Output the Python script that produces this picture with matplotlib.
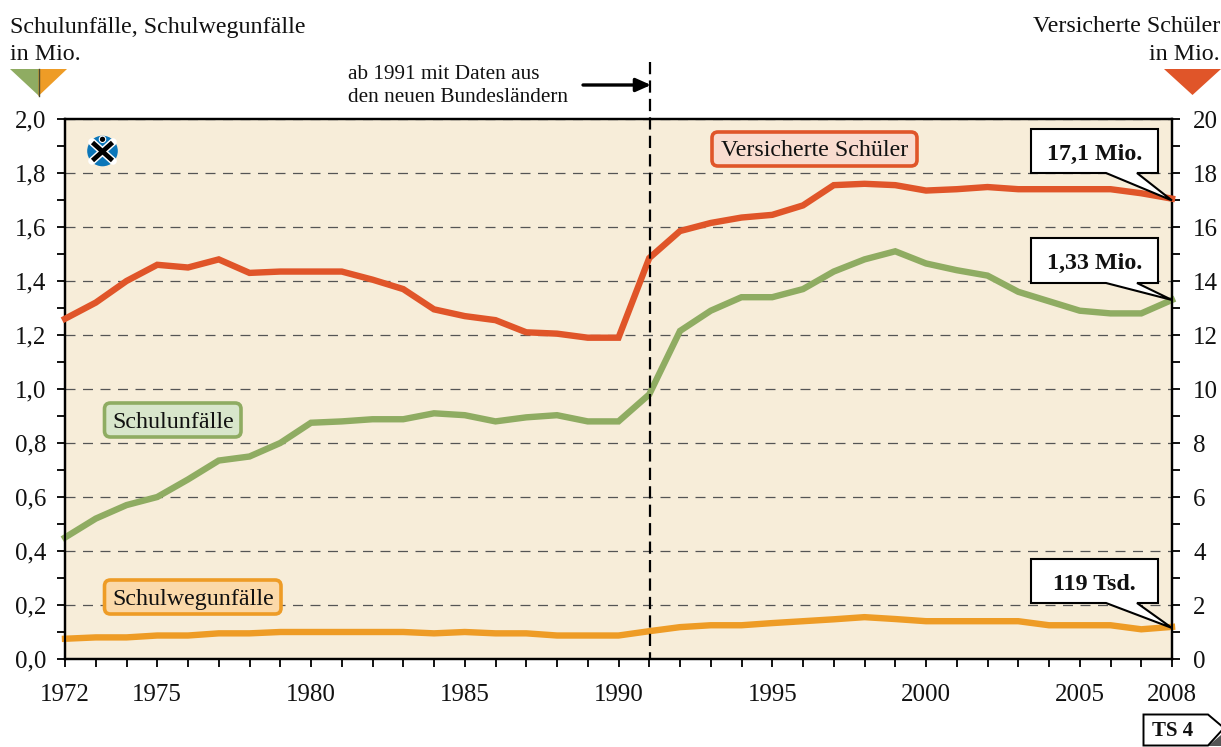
import matplotlib
matplotlib.use("Agg")
import matplotlib.pyplot as plt
from matplotlib.patches import Polygon, FancyBboxPatch, Circle

plt.rcParams['font.family'] = ['Liberation Serif', 'DejaVu Serif']

years = list(range(1972, 2009))
schulunfaelle = [.45,.52,.57,.60,.665,.735,.75,.80,.875,.88,.888,.888,.91,.903,.88,.895,.903,.88,.88,.98,
                 1.215,1.29,1.34,1.34,1.37,1.435,1.48,1.51,1.465,1.44,1.42,1.36,1.325,1.29,1.28,1.28,1.33]
schulweg = [.075,.08,.08,.087,.087,.095,.095,.1,.1,.1,.1,.1,.095,.1,.095,.095,.087,.087,.087,.103,
            .118,.125,.125,.133,.14,.147,.155,.148,.14,.14,.14,.14,.125,.125,.125,.11,.119]
versicherte = [12.6,13.2,14.0,14.6,14.5,14.8,14.3,14.35,14.35,14.35,14.05,13.7,12.95,12.7,12.55,12.1,12.05,11.9,11.9,
               14.85,15.85,16.15,16.35,16.45,16.8,17.55,17.6,17.55,17.35,17.4,17.48,17.4,17.4,17.4,17.4,17.25,17.05]
x_labelled = [1972,1975,1980,1985,1990,1995,2000,2005,2008]
left_major = [0,.2,.4,.6,.8,1.0,1.2,1.4,1.6,1.8,2.0]
right_major = [0,2,4,6,8,10,12,14,16,18,20]

GREEN, ORANGE, RED = '#8fac62', '#ee9c26', '#e05529'
W, H = 1221, 747
FS = 17.3
TICK_FS = 18
fig = plt.figure(figsize=(W/100, H/100), dpi=100)
L, R, T, B = 65, 1172, 119, 659
ax = fig.add_axes([L/W, 1-B/H, (R-L)/W, (B-T)/H], facecolor='#f7edd9')
ax.set_xlim(1972, 2008)
ax.set_ylim(0, 2)
ax2 = ax.twinx()
ax2.set_ylim(0, 20)

ax.set_yticks(left_major)
ax.set_yticklabels([f'{v:.1f}'.replace('.', ',') for v in left_major], fontsize=TICK_FS)
ax.set_yticks([v/10 for v in range(1, 20, 2)], minor=True)
ax2.set_yticks(right_major)
ax2.set_yticklabels([str(v) for v in right_major], fontsize=TICK_FS)
ax2.set_yticks(list(range(1, 20, 2)), minor=True)
ax.set_xticks(years, minor=True)
ax.set_xticks(x_labelled)
ax.set_xticklabels([str(v) for v in x_labelled], fontsize=TICK_FS)
for a in (ax, ax2):
    a.tick_params(axis='both', which='both', length=5.8, width=1.3, color='black', labelcolor='#111111')
    for s in a.spines.values():
        s.set_linewidth(1.6)
ax.tick_params(axis='x', which='major', pad=12.5)
ax2.tick_params(axis='y', which='major', pad=9.5)
ax.tick_params(axis='y', which='major', pad=7.5)

ax.grid(axis='y', which='major', color='#555555', lw=0.9, linestyle=(0, (8, 6)))
ax.set_axisbelow(True)
ax2.set_zorder(ax.get_zorder()+1)
ax2.patch.set_visible(False)

ax.plot(years, schulunfaelle, color=GREEN, lw=4.6, solid_joinstyle='miter', clip_on=False, zorder=3)
ax.plot(years, schulweg, color=ORANGE, lw=4.6, solid_joinstyle='miter', clip_on=False, zorder=3)
ax2.plot(years, versicherte, color=RED, lw=4.6, solid_joinstyle='miter', clip_on=False, zorder=3)

# overlay in pixel coordinates for annotation furniture
ov = fig.add_axes([0, 0, 1, 1], zorder=10)
ov.set_xlim(0, W)
ov.set_ylim(H, 0)
ov.axis('off')

def txt(x, y, s, **k):
    k.setdefault('fontsize', FS)
    k.setdefault('color', '#111111')
    ov.text(x, y, s, **k)

txt(10, 27, 'Schulunfälle, Schulwegunfälle', va='center', ha='left')
txt(10, 55, 'in Mio.', va='center', ha='left')
txt(1220, 27, 'Versicherte Schüler', va='center', ha='right')
txt(1220, 55, 'in Mio.', va='center', ha='right')
txt(348, 74.5, 'ab 1991 mit Daten aus', va='center', ha='left', fontsize=15.3)
txt(348, 98, 'den neuen Bundesländern', va='center', ha='left', fontsize=15.3)

ov.add_patch(Polygon([(10, 69), (38.5, 69), (38.5, 96)], fc=GREEN, ec='none'))
ov.add_patch(Polygon([(38.5, 69), (67, 69), (38.5, 96)], fc=ORANGE, ec='none'))
ov.plot([38.5, 38.5], [69, 96], color='#4a4a30', lw=1)
ov.add_patch(Polygon([(1164, 69), (1221, 69), (1192.5, 95)], fc=RED, ec='none'))

# 1991 marker
ov.plot([649.5, 649.5], [62, 659], color='black', lw=1.6, linestyle=(0, (5.5, 2.8)))
ov.annotate('', xy=(651, 85), xytext=(583, 85),
            arrowprops=dict(arrowstyle='-|>,head_length=0.9,head_width=0.4', color='black', lw=2.4,
                            shrinkA=0, shrinkB=0))

# legends
def label(x0, y0, x1, y1, s, ec, fc):
    ov.add_patch(FancyBboxPatch((x0+5, y0+5), x1-x0-10, y1-y0-10, boxstyle='round,pad=5,rounding_size=6',
                                fc=fc, ec=ec, lw=2.6, zorder=5))
    txt((x0+x1)/2, (y0+y1)/2+2, s, ha='center', va='center', zorder=6)

label(712, 132, 917, 166, 'Versicherte Schüler', RED, '#f9dccf')
label(104.5, 403, 241, 437, 'Schulunfälle', GREEN, '#d8e6cb')
label(104.5, 580, 281, 614, 'Schulwegunfälle', ORANGE, '#fbd9a9')

# callouts
def callout(y0, y1, tip, s):
    pts = [(1031, y0), (1158, y0), (1158, y1), (1137, y1), (1172, tip), (1106, y1), (1031, y1)]
    ov.add_patch(Polygon(pts, closed=True, fc='white', ec='black', lw=1.5, joinstyle='miter', zorder=7))
    txt(1094.5, (y0+y1)/2+3, s, ha='center', va='center', fontweight='bold', zorder=8)

callout(129, 173, 200.5, '17,1 Mio.')
callout(238, 283, 300, '1,33 Mio.')
callout(559, 603, 628, '119 Tsd.')

# TS 4 tag
ov.add_patch(Polygon([(1208, 746), (1221, 735), (1221, 746)], fc='#555555', ec='none'))
ov.add_patch(Polygon([(1143.5, 714.5), (1208, 714.5), (1224, 728), (1208, 745.5), (1143.5, 745.5)],
                     closed=True, fc='white', ec='black', lw=1.4, clip_on=True))
txt(1173, 731.5, 'TS 4', ha='center', va='center', fontweight='bold', fontsize=15)

# logo
cx, cy = 102.5, 151
ov.add_patch(Circle((cx, cy), 15.3, fc='#0b76b9', ec='none'))
for dx, dy in ((10.5, -9.5), (10.5, 9.5)):
    ov.plot([cx-dx, cx+dx], [cy-dy+0.5, cy+dy+0.5], color='white', lw=5.5, solid_capstyle='round')
for dx, dy in ((10, -9), (10, 9)):
    ov.plot([cx-dx, cx+dx], [cy-dy+0.5, cy+dy+0.5], color='black', lw=3.4, solid_capstyle='butt')
ov.add_patch(Circle((cx, 139.3), 3.2, fc='black', ec='white', lw=0.8))

fig.savefig('out.png', dpi=100)
